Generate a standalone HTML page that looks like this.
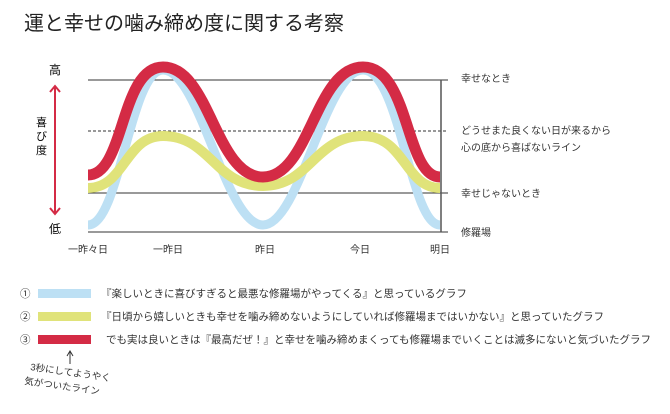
<!DOCTYPE html>
<html><head><meta charset="utf-8"><style>
body{margin:0;background:#fff;width:670px;height:409px;overflow:hidden;font-family:"Liberation Sans","Noto Sans CJK JP",sans-serif;color:#222}
</style></head><body>
<svg width="670" height="409" xmlns="http://www.w3.org/2000/svg" font-family="Liberation Sans, Noto Sans CJK JP, sans-serif">
<text x="24" y="30" font-size="20" fill="#222">運と幸せの噛み締め度に関する考察</text>
<line x1="55" y1="86" x2="55" y2="214" stroke="#d42b45" stroke-width="2"/>
<polyline points="50,92 55,86 60,92" fill="none" stroke="#d42b45" stroke-width="2"/>
<polyline points="50,208 55,214 60,208" fill="none" stroke="#d42b45" stroke-width="2"/>
<text x="55" y="74" font-size="12" text-anchor="middle">高</text>
<text x="55" y="233" font-size="12" text-anchor="middle">低</text>
<text x="36" y="126" font-size="11">喜</text><text x="36" y="140" font-size="11">び</text><text x="36" y="154" font-size="11">度</text>
<line x1="88" y1="80" x2="448" y2="80" stroke="#333" stroke-width="1"/>
<line x1="88" y1="131" x2="448" y2="131" stroke="#333" stroke-width="1" stroke-dasharray="3,2"/>
<line x1="88" y1="193" x2="448" y2="193" stroke="#333" stroke-width="1"/>
<line x1="88" y1="232" x2="448" y2="232" stroke="#333" stroke-width="1"/>
<path d="M88,225 C120,225 130,70 163,70 C200,70 225,225 263,225 C300,225 325,70 363,70 C400,70 410,225 440,225" fill="none" stroke="#bde0f4" stroke-width="9"/>
<path d="M88,188 C125,188 125,136 163,136 C210,136 215,186 263,186 C310,186 315,136 363,136 C405,136 405,188 440,188" fill="none" stroke="#e0e37a" stroke-width="10"/>
<path d="M88,175 C125,175 120,67 163,67 C210,67 215,177 263,177 C310,177 315,67 363,67 C410,67 405,177 440,177" fill="none" stroke="#d42b45" stroke-width="11"/>
<line x1="441" y1="80" x2="441" y2="232" stroke="#555" stroke-width="1.5"/>
<g font-size="10" fill="#333">
<text x="461" y="82">幸せなとき</text>
<text x="461" y="134">どうせまた良くない日が来るから</text>
<text x="461" y="151">心の底から喜ばないライン</text>
<text x="461" y="197">幸せじゃないとき</text>
<text x="461" y="236">修羅場</text>
</g>
<g font-size="10" fill="#333" text-anchor="middle">
<text x="88" y="253">一昨々日</text>
<text x="168" y="253">一昨日</text>
<text x="265" y="253">昨日</text>
<text x="360" y="253">今日</text>
<text x="440" y="253">明日</text>
</g>
<g font-size="10.5" fill="#333">
<text x="20" y="297">①</text>
<rect x="38" y="289" width="53" height="9" fill="#bde0f4"/>
<text x="101" y="297">『楽しいときに喜びすぎると最悪な修羅場がやってくる』と思っているグラフ</text>
<text x="20" y="320">②</text>
<rect x="38" y="312" width="53" height="9" fill="#e0e37a"/>
<text x="101" y="320">『日頃から嬉しいときも幸せを噛み締めないようにしていれば修羅場まではいかない』と思っていたグラフ</text>
<text x="20" y="343">③</text>
<rect x="38" y="335" width="53" height="9" fill="#d42b45"/>
<text x="106" y="343">でも実は良いときは『最高だぜ！』と幸せを噛み締めまくっても修羅場までいくことは滅多にないと気づいたグラフ</text>
</g>
<line x1="70" y1="364" x2="70" y2="352" stroke="#333" stroke-width="1"/>
<polyline points="67,356 70,351 73,356" fill="none" stroke="#333" stroke-width="1"/>
<g font-size="9.5" fill="#333">
<text x="30" y="370" transform="rotate(8 30 370)">3秒にしてようやく</text>
<text x="24" y="384" transform="rotate(8 24 384)">気がついたライン</text>
</g>
</svg>
</body></html>
